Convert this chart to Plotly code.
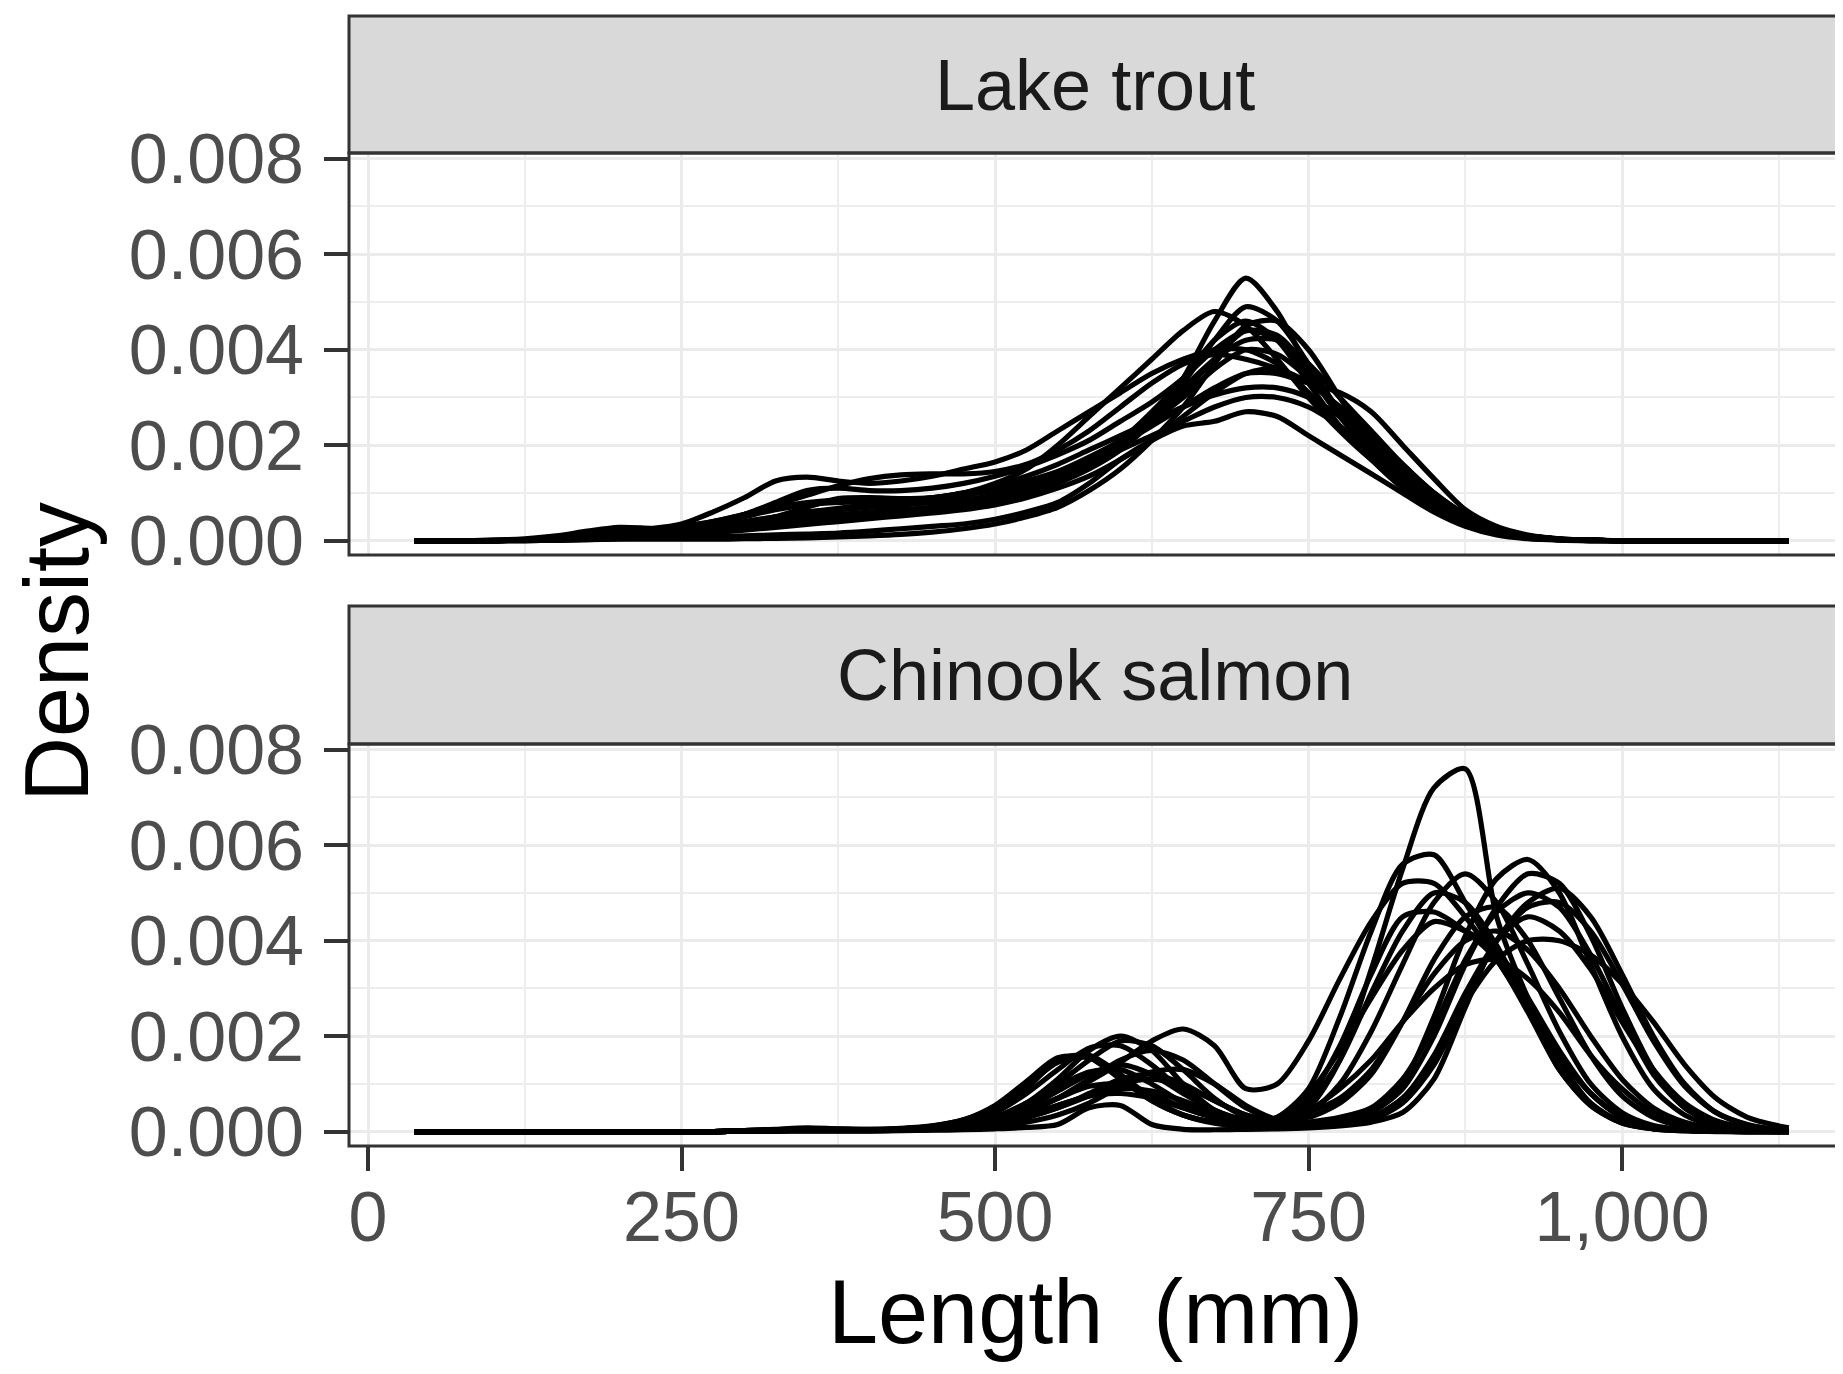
import plotly.graph_objects as go

# ---------------- data (density values in units of 1e-4) ----------------
LENGTH_MM = [37, 75, 100, 125, 150,
             175, 200, 225, 250, 275,
             300, 325, 350, 375, 400,
             425, 450, 475, 500, 525,
             550, 575, 600, 625, 650,
             675, 700, 725, 750, 775,
             800, 825, 850, 875, 900,
             925, 950, 975, 1000, 1025,
             1050, 1075, 1100, 1125, 1133]

LAKE_TROUT = [
    [0, 0, 0.1, 0.2, 0.5, 1.0, 1.5, 1.6, 1.8, 2.2, 2.8, 3.5, 4.0, 4.3, 4.8,
     5.5, 6.2, 7.0, 8.0, 9.5, 12, 15, 19, 25, 34, 46, 55, 48, 36, 26,
     19, 13, 8, 4, 2, 0.8, 0.3, 0.1, 0, 0, 0, 0, 0, 0, 0],
    [0, 0, 0, 0.1, 0.3, 0.7, 1.2, 1.5, 1.8, 2.5, 3.5, 4.5, 5.0, 5.0, 5.2,
     5.8, 6.5, 7.5, 9, 11, 13, 16, 20, 26, 33, 42, 49, 46, 37, 27,
     19, 13, 8.5, 4.8, 2.4, 1, 0.4, 0.1, 0, 0, 0, 0, 0, 0, 0],
    [0, 0, 0, 0.2, 0.5, 1.0, 1.8, 2.0, 2.5, 3.5, 5.0, 6.5, 7.5, 8.0, 8.2,
     8.5, 9, 10, 12, 15, 20, 26, 32, 38, 44, 48, 45, 38, 30, 23,
     17, 12, 7.5, 4, 2, 0.8, 0.3, 0.1, 0, 0, 0, 0, 0, 0, 0],
    [0, 0, 0, 0.2, 0.5, 1.0, 2.0, 2.5, 3.5, 6, 9, 12.5, 13.3, 12.5, 12,
     12.5, 13.5, 15, 16.5, 19, 23, 27, 31, 35, 38, 40, 40, 37, 31, 24,
     18, 12, 7, 3.5, 1.5, 0.5, 0.2, 0, 0, 0, 0, 0, 0, 0, 0],
    [0, 0, 0, 0.2, 0.4, 0.8, 1.5, 2, 2.5, 3.5, 5.5, 8, 10.5, 11, 10.5,
     10.5, 11, 12, 13.5, 15.5, 18, 21, 25, 29, 34, 40, 44, 43, 36, 27,
     19, 13, 8, 4, 2, 0.7, 0.2, 0, 0, 0, 0, 0, 0, 0, 0],
    [0, 0, 0, 0.1, 0.3, 0.6, 1.2, 1.5, 2, 2.5, 3.5, 5, 7, 8.8, 9,
     8.8, 9, 10, 11, 12.5, 14.5, 17.5, 21, 26, 32, 38, 42, 42, 37, 30,
     23, 16, 10, 5, 2.5, 1, 0.3, 0.1, 0, 0, 0, 0, 0, 0, 0],
    [0, 0, 0, 0.1, 0.3, 0.7, 1.5, 2.2, 3, 4, 5.5, 7.5, 9.5, 11.5, 13,
     13.8, 14, 14, 14.5, 16, 19, 23, 28, 33, 37, 39, 38, 36, 33, 28,
     22, 15, 9, 5, 2.5, 1, 0.3, 0.1, 0, 0, 0, 0, 0, 0, 0],
    [0, 0, 0, 0.1, 0.2, 0.5, 1, 1.3, 1.8, 2.5, 3.5, 4.5, 5.5, 6.5, 7,
     7.5, 8, 8.5, 9.5, 11, 13, 16, 20, 24, 28, 32, 35, 35, 33, 31,
     27, 20, 13, 6.5, 3, 1.2, 0.4, 0.1, 0, 0, 0, 0, 0, 0, 0],
    [0, 0, 0, 0, 0.1, 0.2, 0.4, 0.5, 0.6, 0.8, 1, 1.2, 1.4, 1.6, 2,
     2.5, 3, 3.5, 4.5, 6, 8, 12, 17, 21, 24, 25, 27, 26, 22, 18,
     14, 10, 6, 3, 1.2, 0.4, 0.1, 0, 0, 0, 0, 0, 0, 0, 0],
    [0, 0, 0, 0, 0.1, 0.2, 0.3, 0.3, 0.3, 0.3, 0.4, 0.5, 0.6, 0.8, 1,
     1.3, 1.8, 2.5, 3.5, 5, 7, 10.5, 15, 21, 28, 37, 45, 46, 40, 30,
     20, 13, 7.5, 4, 1.8, 0.7, 0.2, 0, 0, 0, 0, 0, 0, 0, 0],
    [0, 0, 0, 0.1, 0.3, 0.7, 1.4, 2, 2.8, 4, 5.5, 7, 8, 8.5, 8.5,
     8.5, 9, 10, 11.5, 13.5, 16, 19, 22, 25, 28, 30.5, 32, 32, 30, 26,
     21, 15.5, 10, 5.5, 2.5, 1, 0.3, 0.1, 0, 0, 0, 0, 0, 0, 0],
    [0, 0, 0, 0.1, 0.2, 0.5, 1, 1.5, 2, 2.5, 3, 3.5, 4, 4.5, 5,
     5.5, 6, 7, 8, 10, 12.5, 15.5, 19, 22, 25, 28, 30, 30, 28, 24,
     19, 14, 9, 5, 2.5, 1, 0.3, 0.1, 0, 0, 0, 0, 0, 0, 0],
    [0, 0, 0, 0.1, 0.2, 0.5, 1.1, 1.6, 2.2, 3, 4, 5, 6, 6.5, 7,
     7.5, 8, 8.5, 9.5, 11, 13, 16, 20, 25, 30, 36, 40, 39, 34, 27,
     20, 14, 8.5, 4.5, 2, 0.8, 0.3, 0.1, 0, 0, 0, 0, 0, 0, 0],
    [0, 0, 0, 0.1, 0.3, 0.6, 1.2, 1.6, 2, 2.8, 3.8, 5, 6, 6.8, 7.5,
     8, 8.5, 9.5, 10.5, 12, 14, 17, 21, 27, 34, 42, 46, 42, 33, 24,
     17, 11, 6.5, 3.5, 1.6, 0.6, 0.2, 0, 0, 0, 0, 0, 0, 0, 0],
    [0, 0, 0, 0, 0.1, 0.3, 0.7, 1, 1.3, 1.7, 2.2, 2.8, 3.4, 4, 4.6,
     5.2, 5.8, 6.5, 7.5, 9, 11, 13.5, 17, 21, 26, 31, 35, 36, 33, 28,
     22, 16, 10, 5.5, 2.6, 1, 0.3, 0.1, 0, 0, 0, 0, 0, 0, 0],
    [0, 0, 0.1, 0.4, 1, 2, 2.8, 2.6, 2.4, 2.8, 3.5, 4.2, 5, 5.5, 6,
     6.5, 7, 8, 9, 10.5, 12.5, 15.5, 19.5, 25, 31, 38, 44, 42, 35, 26,
     19, 13, 8, 4.5, 2.2, 0.9, 0.3, 0.1, 0, 0, 0, 0, 0, 0, 0],
]

CHINOOK_SALMON = [
    [0, 0, 0, 0, 0, 0, 0, 0, 0, 0, 0.1, 0.2, 0.3, 0.3, 0.3,
     0.4, 0.6, 1, 2, 3.5, 5.5, 7.5, 8, 7, 5, 3, 2, 2, 5, 15,
     34, 55, 72, 76, 45, 28, 15, 6, 2, 0.6, 0.2, 0.1, 0, 0, 0],
    [0, 0, 0, 0, 0, 0, 0, 0, 0, 0, 0.2, 0.4, 0.5, 0.5, 0.5,
     0.6, 1, 1.6, 2.8, 4.5, 7, 10.5, 14.5, 19, 21.5, 18, 9, 10, 19, 32,
     44, 52, 52, 45, 36, 26, 16, 8, 3, 1, 0.3, 0.1, 0, 0, 0],
    [0, 0, 0, 0, 0, 0, 0, 0, 0, 0, 0.2, 0.5, 0.8, 0.6, 0.5,
     0.7, 1.2, 2.5, 5, 9.5, 14.5, 15.5, 11.5, 6.5, 3.5, 2, 1.8, 3, 9, 24,
     42, 56, 58, 48, 37, 26, 16, 8, 3, 1, 0.3, 0.1, 0, 0, 0],
    [0, 0, 0, 0, 0, 0, 0, 0, 0, 0, 0.1, 0.2, 0.3, 0.3, 0.3,
     0.5, 0.8, 1.5, 3, 6, 11, 17, 20, 17, 10, 4.5, 2, 2.5, 7, 18,
     33, 45, 46, 42, 36, 25, 13, 5.5, 1.8, 0.6, 0.2, 0.1, 0, 0, 0],
    [0, 0, 0, 0, 0, 0, 0, 0, 0, 0, 0.1, 0.2, 0.3, 0.3, 0.3,
     0.4, 0.5, 1, 1.8, 3, 5, 8, 11, 12, 10, 6.5, 3.5, 2.5, 4, 10,
     21, 35, 48, 54, 48, 35, 21, 10, 4, 1.3, 0.4, 0.1, 0, 0, 0],
    [0, 0, 0, 0, 0, 0, 0, 0, 0, 0, 0.2, 0.3, 0.4, 0.4, 0.4,
     0.5, 1, 2, 4.5, 9, 15, 16, 12, 7, 3.5, 1.8, 1.2, 2, 6, 15,
     29, 42, 50, 48, 39, 26, 13, 5.5, 1.8, 0.6, 0.2, 0, 0, 0, 0],
    [0, 0, 0, 0, 0, 0, 0, 0, 0, 0, 0.1, 0.2, 0.3, 0.3, 0.3,
     0.4, 0.8, 1.5, 3, 5.5, 10, 15, 19, 18, 13, 7, 3, 1.5, 1.5, 2,
     4, 10, 24, 41, 53, 57, 50, 35, 20, 9, 3.5, 1.2, 0.4, 0.1, 0.1],
    [0, 0, 0, 0, 0, 0, 0, 0, 0, 0, 0.2, 0.4, 0.6, 0.5, 0.4,
     0.5, 0.8, 1.5, 3, 6, 9.5, 12.5, 13, 10, 6, 3, 1.5, 1, 1.2, 2,
     4, 9, 20, 35, 47, 54, 52, 41, 26, 13, 5, 1.6, 0.5, 0.1, 0.1],
    [0, 0, 0, 0, 0, 0, 0, 0, 0, 0, 0.1, 0.2, 0.2, 0.2, 0.2,
     0.3, 0.5, 1, 2, 3.5, 5.5, 7.5, 9, 8.5, 6.5, 4, 2, 1.2, 1, 1.5,
     2.5, 6, 14, 27, 40, 48, 51, 45, 33, 20, 10, 4, 1.5, 0.4, 0.3],
    [0, 0, 0, 0, 0, 0, 0, 0, 0, 0, 0.1, 0.2, 0.3, 0.3, 0.3,
     0.4, 0.6, 1, 1.8, 3, 5, 7.5, 10, 11, 9.5, 6.5, 3.5, 2, 1.5, 2,
     3, 7, 16, 29, 40, 47, 48, 42, 31, 19, 9.5, 4, 1.4, 0.4, 0.2],
    [0, 0, 0, 0, 0, 0, 0, 0, 0, 0, 0.2, 0.4, 0.6, 0.5, 0.4,
     0.6, 1, 2, 4, 8, 13, 17.5, 18, 14, 8.5, 4.5, 2.5, 2.5, 4.5, 9,
     15, 23, 30, 35, 36, 32, 25, 16, 9, 4, 1.5, 0.5, 0.2, 0, 0],
    [0, 0, 0, 0, 0, 0, 0, 0, 0, 0, 0.2, 0.3, 0.4, 0.4, 0.4,
     0.6, 1.2, 2.5, 5.5, 10.5, 15.5, 15.5, 11, 6.5, 3.5, 2, 1.5, 2, 4, 7,
     13, 23, 33, 40, 42, 38, 30, 20, 11, 5, 2, 0.7, 0.2, 0.1, 0],
    [0, 0, 0, 0, 0, 0, 0, 0, 0, 0, 0.1, 0.1, 0.1, 0.1, 0.1,
     0.2, 0.3, 0.4, 0.6, 0.9, 1.5, 5, 5.5, 1.5, 0.5, 0.4, 0.5, 0.6, 0.8, 1.2,
     2, 4, 11, 26, 40, 45, 42, 34, 23, 13, 6, 2.3, 0.8, 0.2, 0.1],
    [0, 0, 0, 0, 0, 0, 0, 0, 0, 0, 0.1, 0.2, 0.2, 0.2, 0.2,
     0.3, 0.4, 0.7, 1.2, 2, 3.5, 6, 9.5, 12.5, 13, 10, 5.5, 2.5, 1.5, 1.8,
     3, 7, 15, 27, 36, 40, 40, 37, 31, 23, 14, 7, 3, 1.2, 0.8],
    [0, 0, 0, 0, 0, 0, 0, 0, 0, 0, 0.1, 0.2, 0.3, 0.3, 0.3,
     0.4, 0.7, 1.4, 2.8, 5, 8.5, 12, 14, 12, 8, 4.5, 2.2, 1.5, 2, 3,
     5, 11, 22, 36, 46, 50, 47, 37, 24, 12, 5, 1.8, 0.6, 0.2, 0.1],
    [0, 0, 0, 0, 0, 0, 0, 0, 0, 0, 0.1, 0.2, 0.3, 0.3, 0.3,
     0.4, 0.7, 1.2, 2.2, 4, 7, 11, 15, 17, 15, 10, 5, 2.5, 3, 6,
     12, 23, 36, 45, 47, 40, 28, 16, 7.5, 3, 1, 0.3, 0.1, 0, 0],
    [0, 0, 0, 0, 0, 0, 0, 0, 0, 0, 0.1, 0.2, 0.3, 0.3, 0.3,
     0.4, 0.7, 1.3, 2.5, 4.5, 7, 9.5, 10, 8, 5, 3, 2, 3, 8, 17,
     28, 38, 44, 42, 38, 28, 17, 8, 3, 1, 0.3, 0.1, 0, 0, 0],
]

FACETS = ["Lake trout", "Chinook salmon"]
X_TICKS = [0, 250, 500, 750, 1000]
X_TICK_LABELS = ["0", "250", "500", "750", "1,000"]
Y_TICKS = [0.000, 0.002, 0.004, 0.006, 0.008]
Y_TICK_LABELS = ["0.000", "0.002", "0.004", "0.006", "0.008"]
DENSITY_UNIT = 1e-4

# ---------------- figure ----------------
OFF = 8                      # browser body margin offset
W, H = 1843 - OFF, 1374 - OFF
ML, MR, MT, MB = 349 - OFF, 0, 16 - OFF, 228
PH = H - MT - MB

def py(p):
    """page pixel row -> paper fraction"""
    return (H - MB - (p - OFF)) / PH

def px(p):
    """page pixel column -> paper fraction"""
    return ((p - OFF) - ML) / (W - ML - MR)

TOP_DOM = [py(555), py(153)]
BOT_DOM = [py(1146), py(744)]
TOP_STRIP = [py(153), py(16)]
BOT_STRIP = [py(744), py(606)]

FONT = "Liberation Sans, Arial, sans-serif"
fig = go.Figure()

for curves, (xa, ya) in zip([LAKE_TROUT, CHINOOK_SALMON], [("x", "y"), ("x2", "y2")]):
    for c in curves:
        assert len(c) == len(LENGTH_MM)
        fig.add_trace(go.Scatter(
            x=LENGTH_MM, y=[v * DENSITY_UNIT for v in c],
            mode="lines", line=dict(color="black", width=5.2, shape="spline", smoothing=0.8),
            xaxis=xa, yaxis=ya, showlegend=False, hoverinfo="skip"))

XR = [-15.15, 1176.2]
YR = [-0.0003, 0.00812]
grid = dict(showgrid=True, gridcolor="#EBEBEB", gridwidth=3, zeroline=False)

xcommon = dict(range=XR, tickvals=X_TICKS, ticktext=X_TICK_LABELS,
               minor=dict(dtick=125, tick0=125, showgrid=True, gridcolor="#EDEDED", gridwidth=2, ticks=""),
               **grid)
ycommon = dict(range=YR, tickvals=Y_TICKS, ticktext=Y_TICK_LABELS,
               minor=dict(dtick=0.001, tick0=0.001, showgrid=True, gridcolor="#EDEDED", gridwidth=2, ticks=""),
               ticks="outside", ticklen=24, tickwidth=4, tickcolor="#333333",
               tickfont=dict(family=FONT, size=70, color="#4D4D4D"),
               ticklabelstandoff=6, **grid)

fig.update_layout(
    width=W, height=H,
    margin=dict(l=ML, r=MR, t=MT, b=MB, autoexpand=False),
    paper_bgcolor="white", plot_bgcolor="white",
    xaxis=dict(domain=[0, 1], anchor="y", showticklabels=False, ticks="", **xcommon),
    yaxis=dict(domain=TOP_DOM, anchor="x", **ycommon),
    xaxis2=dict(domain=[0, 1], anchor="y2", ticks="outside", ticklen=24, tickwidth=4,
                tickcolor="#333333", tickfont=dict(family=FONT, size=70, color="#4D4D4D"),
                ticklabelstandoff=-14, **xcommon),
    yaxis2=dict(domain=BOT_DOM, anchor="x2", **ycommon),
)

shapes = []
for strip, dom in [(TOP_STRIP, TOP_DOM), (BOT_STRIP, BOT_DOM)]:
    shapes.append(dict(type="rect", xref="paper", yref="paper", x0=0, x1=1.05,
                       y0=strip[0], y1=strip[1], fillcolor="#D9D9D9",
                       line=dict(color="#333333", width=3), layer="above"))
    shapes.append(dict(type="rect", xref="paper", yref="paper", x0=0, x1=1.05,
                       y0=dom[0], y1=dom[1], fillcolor="rgba(0,0,0,0)",
                       line=dict(color="#333333", width=3), layer="above"))
fig.update_layout(shapes=shapes)

annotations = []
for name, strip, xr in zip(FACETS, [TOP_STRIP, BOT_STRIP], ["x", "x2"]):
    annotations.append(dict(text=name, xref=xr, yref="paper", x=580,
                            y=(strip[0] + strip[1]) / 2, xanchor="center", yanchor="middle",
                            showarrow=False, font=dict(family=FONT, size=72, color="#1A1A1A")))
annotations.append(dict(text="Length  (mm)", xref="x2", yref="paper", x=580, y=py(1312),
                        xanchor="center", yanchor="middle", showarrow=False,
                        font=dict(family=FONT, size=90, color="black")))
annotations.append(dict(text="Density", xref="paper", yref="paper", x=px(57),
                        y=py(652), xanchor="center", yanchor="middle", textangle=-90,
                        showarrow=False, font=dict(family=FONT, size=90, color="black")))
fig.update_layout(annotations=annotations)

fig.write_html("out.html")
